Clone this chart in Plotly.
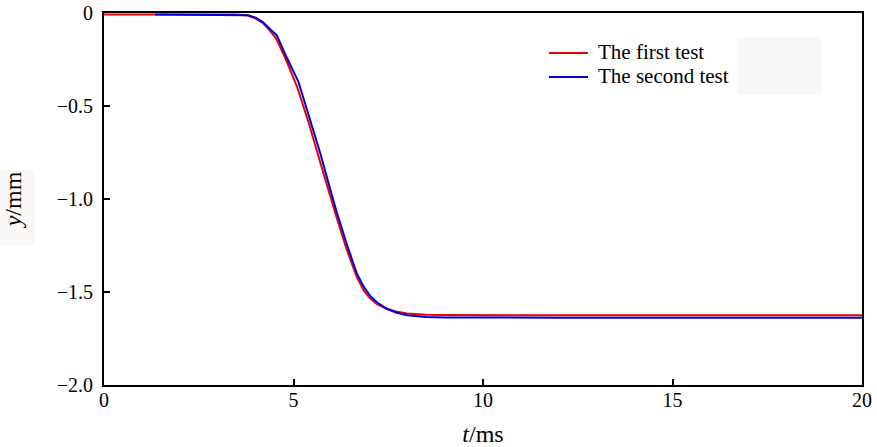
import plotly.graph_objects as go

# Data
t_first = [0, 1.0, 2.0, 3.0, 3.5, 3.8, 4.0, 4.2, 4.4, 4.55, 4.8, 5.1, 5.4, 5.7, 6.0, 6.14, 6.4, 6.67, 6.85, 7.0, 7.2, 7.46, 7.7, 8.0, 8.5, 9.0, 12.0, 16.0, 20.0]
y_first = [-0.008, -0.008, -0.008, -0.008, -0.008, -0.014, -0.03, -0.055, -0.10, -0.14, -0.25, -0.40, -0.59, -0.80, -1.01, -1.10, -1.27, -1.42, -1.49, -1.53, -1.565, -1.59, -1.605, -1.615, -1.622, -1.624, -1.625, -1.625, -1.625]

t_second = [1.35, 2.0, 3.0, 3.5, 3.8, 4.0, 4.2, 4.4, 4.56, 4.8, 5.13, 5.4, 5.7, 6.0, 6.14, 6.4, 6.67, 6.85, 7.02, 7.2, 7.46, 7.7, 8.0, 8.5, 9.0, 12.0, 16.0, 20.0]
y_second = [-0.008, -0.008, -0.008, -0.008, -0.012, -0.025, -0.05, -0.09, -0.12, -0.23, -0.37, -0.55, -0.75, -0.97, -1.07, -1.24, -1.40, -1.47, -1.52, -1.555, -1.59, -1.61, -1.625, -1.634, -1.637, -1.638, -1.638, -1.638]

series_names = ["The first test", "The second test"]
series_colors = ["#ee0000", "#0000dd"]

x_ticks = [0, 5, 10, 15, 20]
y_ticks = [0, -0.5, -1.0, -1.5, -2.0]
y_tick_text = ["0", "\u22120.5", "\u22121.0", "\u22121.5", "\u22122.0"]

FONT = "Liberation Serif"
W, H = 877, 447
L, T, R, B = 104, 13, 15, 62
PW, PH = W - L - R, H - T - B


def px_x(x):
    # page pixel -> paper coordinate
    return (x - L) / PW


def px_y(y):
    return 1 - (y - T) / PH


fig = go.Figure()
for tx, ty, name, col in [(t_first, y_first, series_names[0], series_colors[0]),
                          (t_second, y_second, series_names[1], series_colors[1])]:
    fig.add_trace(go.Scatter(x=tx, y=ty, mode="lines", name=name,
                             line=dict(color=col, width=2), showlegend=False))

axis_common = dict(showgrid=False, zeroline=False, showline=True, linecolor="black",
                   linewidth=2, mirror=True, ticks="inside", ticklen=6, tickwidth=2,
                   tickcolor="black", automargin=False, ticklabeloverflow="allow",
                   tickfont=dict(family=FONT, size=20, color="black"))

fig.update_xaxes(range=[0, 20], tickvals=x_ticks, ticktext=[str(v) for v in x_ticks],
                 ticklabelstandoff=-4,
                 title=dict(text="<i>t</i>/ms", font=dict(family=FONT, size=24, color="black"), standoff=22),
                 **axis_common)
fig.update_yaxes(range=[-2.0, 0], tickvals=y_ticks, ticktext=y_tick_text,
                 ticklabelstandoff=5,
                 title=dict(text="<i>y</i>/mm", font=dict(family=FONT, size=24, color="black"), standoff=32),
                 **axis_common)

# faint background patches seen in the reference
fig.add_shape(type="rect", xref="paper", yref="paper", x0=px_x(737), x1=px_x(822),
              y0=px_y(95), y1=px_y(37), fillcolor="#f9f8f7", line=dict(width=0), layer="below")
fig.add_shape(type="rect", xref="paper", yref="paper", x0=px_x(0), x1=px_x(35),
              y0=px_y(245), y1=px_y(170), fillcolor="#f9f8f7", line=dict(width=0), layer="below")

# legend (drawn manually to match spacing)
legend_rows_y = [53, 77]
for name, col, ly in zip(series_names, series_colors, legend_rows_y):
    fig.add_shape(type="line", xref="paper", yref="paper", x0=px_x(549), x1=px_x(588),
                  y0=px_y(ly), y1=px_y(ly), line=dict(color=col, width=2))
    fig.add_annotation(xref="paper", yref="paper", x=px_x(597), y=px_y(ly - 1),
                       xanchor="left", yanchor="middle", text=name, showarrow=False,
                       font=dict(family=FONT, size=21, color="black"), borderpad=0)

fig.update_layout(
    width=W, height=H,
    margin=dict(l=L, r=R, t=T, b=B, autoexpand=False),
    paper_bgcolor="white", plot_bgcolor="white",
    font=dict(family=FONT, size=20, color="black"),
    showlegend=False,
    hovermode=False,
)

# remove the browser's default body margin so the figure fills the window exactly
fig.write_html("out.html", config={"displayModeBar": False},
               post_script="document.body.style.margin='0';document.body.style.overflow='hidden';")
